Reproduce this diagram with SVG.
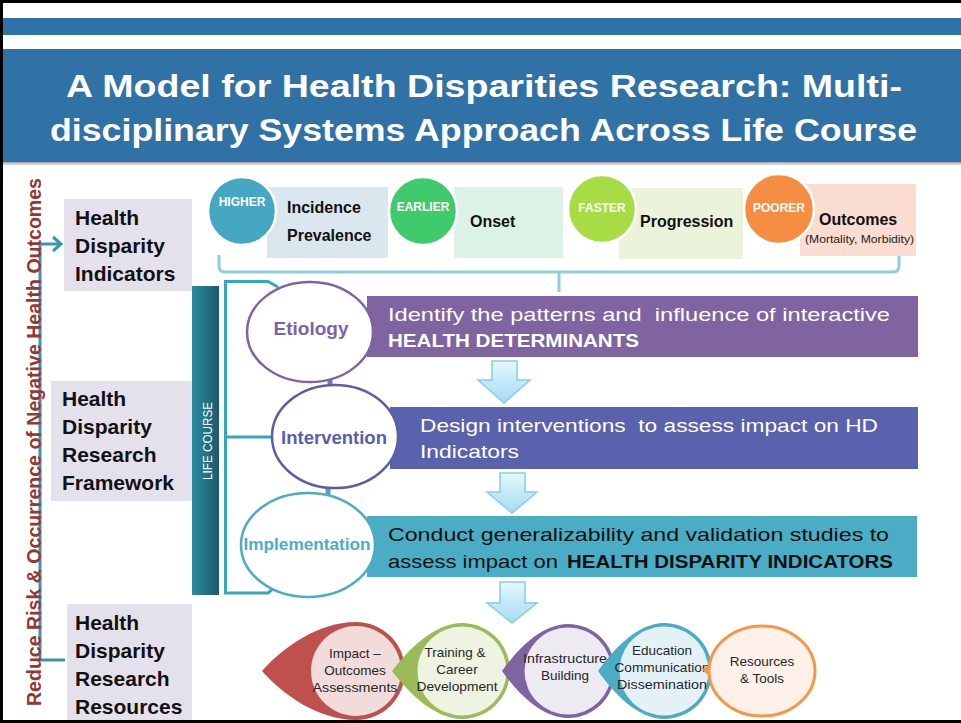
<svg xmlns="http://www.w3.org/2000/svg" width="961" height="723" viewBox="0 0 961 723">
<defs>
<style>
.t{font-family:"Liberation Sans",Arial,sans-serif}
.b{font-weight:bold}
.lbox{fill:#E5E1EC}
.lt{font-family:"Liberation Sans",Arial,sans-serif;font-weight:bold;font-size:21px;fill:#111}
.ct{font-family:"Liberation Sans",Arial,sans-serif;font-weight:bold;font-size:12px;fill:#fff;text-anchor:middle}
.bt{font-family:"Liberation Sans",Arial,sans-serif;font-weight:bold;font-size:16px;fill:#111}
.wt{font-family:"Liberation Sans",Arial,sans-serif;font-size:19px;fill:#fff}
.st{font-family:"Liberation Sans",Arial,sans-serif;font-size:13.5px;fill:#262626;text-anchor:middle}
.dn{fill:url(#arrowGrad);stroke:#86CDE8;stroke-width:1.5}
</style>
<linearGradient id="lifeGrad" x1="0" y1="0" x2="1" y2="0">
<stop offset="0" stop-color="#2B8D9F"/>
<stop offset="1" stop-color="#1B5A6B"/>
</linearGradient>
<linearGradient id="arrowGrad" x1="0" y1="0" x2="0" y2="1">
<stop offset="0" stop-color="#E6F7FD"/>
<stop offset="1" stop-color="#A3DCF2"/>
</linearGradient>
<linearGradient id="shadow" x1="0" y1="0" x2="0" y2="1">
<stop offset="0" stop-color="#9AA6B2"/>
<stop offset="1" stop-color="#FFFFFF"/>
</linearGradient>
</defs>

<rect x="0" y="0" width="961" height="723" fill="#fff"/>
<rect x="1.5" y="1.5" width="975" height="720" fill="none" stroke="#000" stroke-width="3"/>

<g id="header">
<rect x="3" y="18" width="958" height="17" fill="#3172A6"/>
<rect x="3" y="49" width="958" height="113" fill="#3172A6"/>
<rect x="3" y="162" width="958" height="4" fill="url(#shadow)"/>
<text class="t b" x="66" y="97" font-size="31" fill="#fff" textLength="836" lengthAdjust="spacingAndGlyphs">A Model for Health Disparities Research: Multi-</text>
<text class="t b" x="50" y="141" font-size="31" fill="#fff" textLength="867" lengthAdjust="spacingAndGlyphs">disciplinary Systems Approach Across Life Course</text>
</g>

<g id="connectors" fill="none">
<path d="M65,660 H40 V244 H60" stroke="#3A95AB" stroke-width="3"/>
<polyline points="53,237 61,244 53,251" stroke="#3A95AB" stroke-width="3"/>
<path d="M219,255 V266 Q219,272 225,272 H893 Q899,272 899,266 V256 M559,272 V292" stroke="#92CDDC" stroke-width="3"/>
<path d="M278,287 L268,281.5 H225.5 V593 H268 L274,588 M225.5,437 H272" stroke="#36A6BB" stroke-width="3"/>
<path d="M330,380 V387" stroke="#5B7FBF" stroke-width="5"/>
<path d="M328,487 V495" stroke="#46A9C2" stroke-width="5"/>
</g>

<g id="reduce-risk">
<text class="t b" transform="translate(41,706) rotate(-90)" x="0" y="0" font-size="21" fill="#953735" textLength="528" lengthAdjust="spacingAndGlyphs">Reduce Risk &amp; Occurrence of Negative Health Outcomes</text>
</g>

<g id="hd-indicators">
<rect class="lbox" x="64" y="199" width="128" height="92"/>
<text class="lt" x="75" y="225">Health</text>
<text class="lt" x="75" y="253">Disparity</text>
<text class="lt" x="75" y="281">Indicators</text>
</g>

<g id="hd-framework">
<rect class="lbox" x="51" y="381" width="141" height="120"/>
<text class="lt" x="62" y="406">Health</text>
<text class="lt" x="62" y="434">Disparity</text>
<text class="lt" x="62" y="462">Research</text>
<text class="lt" x="62" y="490">Framework</text>
</g>

<g id="hd-resources">
<rect class="lbox" x="67" y="604" width="125" height="116"/>
<text class="lt" x="75" y="630">Health</text>
<text class="lt" x="75" y="658">Disparity</text>
<text class="lt" x="75" y="686">Research</text>
<text class="lt" x="75" y="714">Resources</text>
</g>

<g id="life-course">
<rect x="192" y="286" width="27" height="309" fill="url(#lifeGrad)"/>
<text class="t" transform="translate(212,441) rotate(-90)" x="-39" y="0" font-size="13" fill="#fff" textLength="78" lengthAdjust="spacingAndGlyphs">LIFE COURSE</text>
</g>

<g id="incidence">
<rect x="267" y="187" width="121" height="71" fill="#DAE7EE"/>
<circle cx="242" cy="211" r="34" fill="#45A7C1" stroke="#fff" stroke-width="2.5"/>
<text class="ct" x="242" y="206">HIGHER</text>
<text class="bt" x="287" y="213">Incidence</text>
<text class="bt" x="287" y="241">Prevalence</text>
</g>

<g id="onset">
<rect x="454" y="187" width="109" height="71" fill="#DDF2E6"/>
<circle cx="423" cy="211" r="34" fill="#3FCA6B" stroke="#fff" stroke-width="2.5"/>
<text class="ct" x="423" y="211">EARLIER</text>
<text class="bt" x="470" y="227">Onset</text>
</g>

<g id="progression">
<rect x="619" y="188" width="124" height="71" fill="#EBF4DA"/>
<circle cx="602" cy="209" r="34" fill="#A8DC44" stroke="#fff" stroke-width="2.5"/>
<text class="ct" x="602" y="212">FASTER</text>
<text class="bt" x="640" y="227">Progression</text>
</g>

<g id="outcomes">
<rect x="800" y="184" width="116" height="72" fill="#FADDD0"/>
<circle cx="779" cy="209" r="35" fill="#F58E43" stroke="#fff" stroke-width="2.5"/>
<text class="ct" x="779" y="212">POORER</text>
<text class="bt" x="819" y="225">Outcomes</text>
<text class="t" x="805" y="243" font-size="10" fill="#222" textLength="109" lengthAdjust="spacingAndGlyphs">(Mortality, Morbidity)</text>
</g>

<g id="etiology">
<rect x="367" y="296" width="551" height="61" fill="#8064A2"/>
<ellipse cx="310" cy="332" rx="63" ry="50" fill="#fff" stroke="#8064A2" stroke-width="2.5"/>
<text class="t b" x="311" y="335" font-size="19" fill="#7F62A1" text-anchor="middle">Etiology</text>
<text class="wt" x="388" y="321" textLength="502" lengthAdjust="spacingAndGlyphs" xml:space="preserve">Identify the patterns and  influence of interactive</text>
<text class="wt b" x="388" y="347" textLength="251" lengthAdjust="spacingAndGlyphs">HEALTH DETERMINANTS</text>
</g>

<g id="intervention">
<rect x="390" y="407" width="528" height="62" fill="#5A62AE"/>
<ellipse cx="335" cy="436.5" rx="63" ry="51.5" fill="#fff" stroke="#5B5EA6" stroke-width="2.5"/>
<text class="t b" x="334" y="444" font-size="18" fill="#5A5EB0" text-anchor="middle" textLength="106" lengthAdjust="spacingAndGlyphs">Intervention</text>
<text class="wt" x="420" y="432" textLength="458" lengthAdjust="spacingAndGlyphs" xml:space="preserve">Design interventions  to assess impact on HD</text>
<text class="wt" x="420" y="458" textLength="99" lengthAdjust="spacingAndGlyphs">Indicators</text>
</g>

<g id="implementation">
<rect x="367" y="516" width="550" height="61" fill="#4BACC6"/>
<ellipse cx="308" cy="545" rx="67" ry="52" fill="#fff" stroke="#4BACC6" stroke-width="2.5"/>
<text class="t b" x="307" y="550" font-size="16" fill="#4BACC6" text-anchor="middle" textLength="127" lengthAdjust="spacingAndGlyphs">Implementation</text>
<text class="wt" x="388" y="541" style="fill:#111" textLength="501" lengthAdjust="spacingAndGlyphs">Conduct generalizability and validation studies to</text>
<text class="wt" y="568" style="fill:#111"><tspan x="388" textLength="170" lengthAdjust="spacingAndGlyphs">assess impact on</tspan><tspan x="567" font-weight="bold" textLength="326" lengthAdjust="spacingAndGlyphs">HEALTH DISPARITY INDICATORS</tspan></text>
</g>

<g id="down-arrows">
<path class="dn" d="M492,361 H517 V380 H530 L504,403 L478,380 H492 Z"/>
<path class="dn" d="M500,473 H525 V492 H537 L512,513 L487,492 H500 Z"/>
<path class="dn" d="M500,582 H525 V603 H537 L512,623 L487,603 H500 Z"/>
</g>

<g id="impact">
<path d="M262,671 C282,648 318,622 356,622 A49,49 0 0 1 356,720 C318,720 282,694 262,671 Z" fill="#C0504D"/>
<circle cx="356" cy="671" r="45" fill="#F2DCDB"/>
<text class="st" x="355" y="658">Impact –</text>
<text class="st" x="355" y="675">Outcomes</text>
<text class="st" x="355" y="692" textLength="85" lengthAdjust="spacingAndGlyphs">Assessments</text>
</g>

<g id="training">
<path d="M392,671 C408,650 434,623 462,623 A48,48 0 0 1 462,719 C434,719 408,692 392,671 Z" fill="#9BBB59"/>
<circle cx="462" cy="671" r="44.5" fill="#EEF3E2"/>
<text class="st" x="455" y="657">Training &amp;</text>
<text class="st" x="457" y="674">Career</text>
<text class="st" x="457" y="691" textLength="81" lengthAdjust="spacingAndGlyphs">Development</text>
</g>

<g id="infrastructure">
<path d="M502,671 C517,650 541,624 568,624 A47,47 0 0 1 568,718 C541,718 517,692 502,671 Z" fill="#8064A2"/>
<circle cx="568" cy="671" r="43.5" fill="#EDEAF2"/>
<text class="st" x="565" y="663" textLength="84" lengthAdjust="spacingAndGlyphs">Infrastructure</text>
<text class="st" x="565" y="680">Building</text>
</g>

<g id="education">
<path d="M598,671 C613,650 637,623 664,623 A48,48 0 0 1 664,719 C637,719 613,692 598,671 Z" fill="#4BACC6"/>
<circle cx="664" cy="671" r="44.5" fill="#E4F2F7"/>
<text class="st" x="662" y="655">Education</text>
<text class="st" x="662" y="672" textLength="95" lengthAdjust="spacingAndGlyphs">Communication</text>
<text class="st" x="662" y="689" textLength="90" lengthAdjust="spacingAndGlyphs">Dissemination</text>
</g>

<g id="resources-tools">
<polygon points="702,670 712,662 712,678" fill="#F79646"/>
<ellipse cx="762" cy="671" rx="53" ry="45" fill="#FEF1E9" stroke="#F79646" stroke-width="3"/>
<text class="st" x="762" y="666">Resources</text>
<text class="st" x="762" y="683">&amp; Tools</text>
</g>
</svg>
